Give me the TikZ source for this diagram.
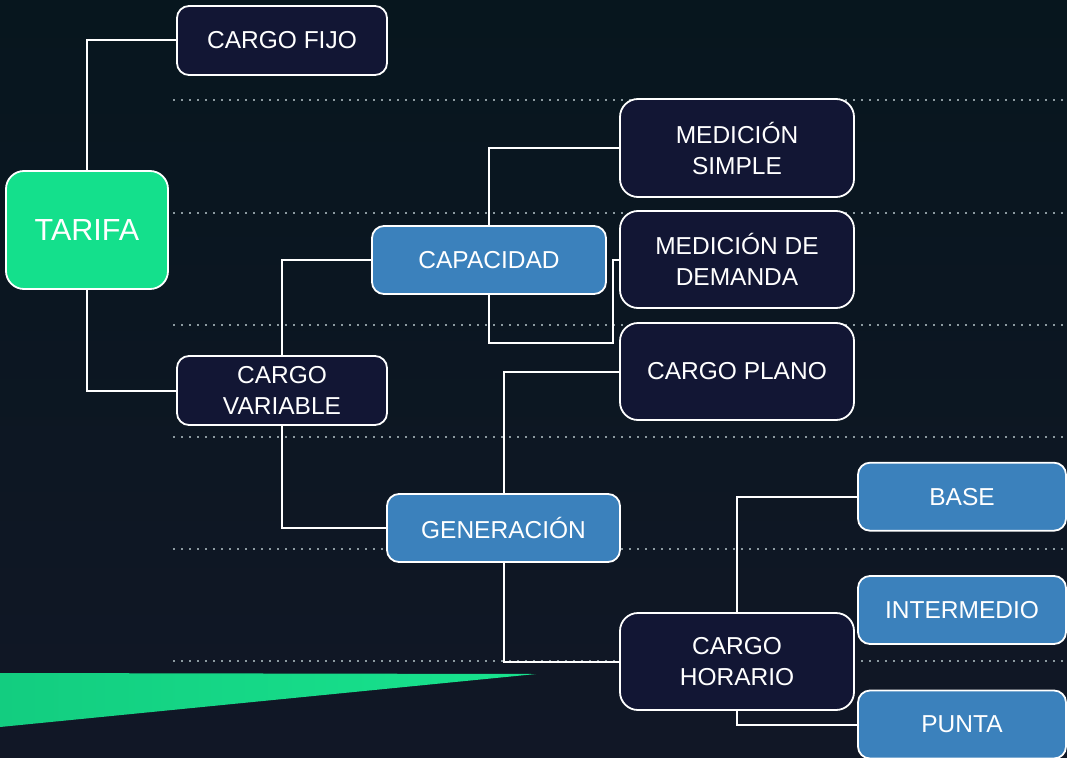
\documentclass[tikz,border=0pt]{standalone}
\usepackage{fontspec}
\setmainfont{Liberation Sans}
\definecolor{bgtop}{RGB}{7,22,30}
\definecolor{bgmid}{RGB}{11,29,36}
\definecolor{bgbot}{RGB}{17,23,38}
\definecolor{navy}{RGB}{18,22,52}
\definecolor{steel}{RGB}{59,129,188}
\definecolor{mint}{RGB}{20,224,140}
\definecolor{dotgray}{RGB}{140,154,160}
\definecolor{wedgeL}{RGB}{19,205,128}
\definecolor{wedgeR}{RGB}{24,228,142}
\tikzset{
  box/.style={draw=white, line width=1.8pt, rounded corners=12pt, inner sep=0pt,
    align=center, text=white, font=\fontsize{24.5}{31}\selectfont},
  darkbox/.style={box, fill=navy},
  bluebox/.style={box, fill=steel},
  link/.style={draw=white, line width=2pt},
  guide/.style={draw=dotgray, line width=2pt, dash pattern=on 2pt off 6pt},
}
\begin{document}
\begin{tikzpicture}[x=1pt,y=-1pt]
\useasboundingbox (0,0) rectangle (1067,757);
\clip (0,0) rectangle (1067,757);
% background
\shade[top color=bgtop, middle color=bgmid, bottom color=bgbot] (0,0) rectangle (1067,757);
% green wedge
\shade[left color=wedgeL, right color=wedgeR] (0,673) -- (536,674) -- (0,727) -- cycle;
% dotted guides
\foreach \yy in {100,212.5,324.5,436.7,549,660.7}
  \draw[guide] (173,\yy) -- (1067,\yy);
% nodes
\node[darkbox, minimum width=210pt, minimum height=69pt] (fijo) at (282,40.5) {CARGO FIJO};
\node[box, fill=mint, rounded corners=18pt, minimum width=162pt, minimum height=118pt,
      font=\fontsize{30.5}{36}\selectfont] (tarifa) at (87,230) {TARIFA};
\node[darkbox, minimum width=210pt, minimum height=69pt] (variable) at (282,390.5) {CARGO\\VARIABLE};
\node[bluebox, minimum width=234pt, minimum height=68pt] (capacidad) at (489,260) {CAPACIDAD};
\node[darkbox, rounded corners=18pt, minimum width=234pt, minimum height=98pt] (simple) at (737,148) {MEDICIÓN\\SIMPLE};
\node[darkbox, rounded corners=18pt, minimum width=234pt, minimum height=97pt] (demanda) at (737,259.5) {MEDICIÓN DE\\DEMANDA};
\node[darkbox, rounded corners=18pt, minimum width=234pt, minimum height=97pt] (plano) at (737,371.5) {CARGO PLANO};
\node[bluebox, minimum width=233pt, minimum height=68pt] (generacion) at (503.5,528) {GENERACIÓN};
\node[darkbox, rounded corners=18pt, minimum width=234pt, minimum height=97pt] (horario) at (737,661.5) {CARGO\\HORARIO};
\node[bluebox, minimum width=208pt, minimum height=68pt] (base) at (962,496.7) {BASE};
\node[bluebox, minimum width=208pt, minimum height=68pt] (intermedio) at (962,610) {INTERMEDIO};
\node[bluebox, minimum width=208pt, minimum height=68pt] (punta) at (962,724.5) {PUNTA};
% connectors
\coordinate (cd) at (613,343);
\draw[link] (tarifa.north) |- (fijo.west);
\draw[link] (tarifa.south) |- (variable.west);
\draw[link] (variable.north) |- (capacidad.west);
\draw[link] (variable.south) |- (generacion.west);
\draw[link] (capacidad.north) |- (simple.west);
\draw[link] (capacidad.south) |- (cd) |- (demanda.west);
\draw[link] (generacion.north) |- (plano.west);
\draw[link] (generacion.south) |- (horario.west);
\draw[link] (horario.north) |- (base.west);
\draw[link] (horario.south) |- (punta.west);
\end{tikzpicture}
\end{document}
